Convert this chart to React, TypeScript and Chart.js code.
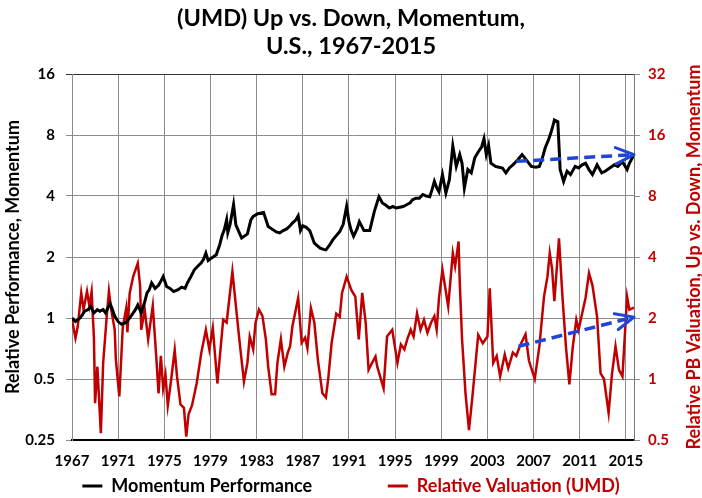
import React, { useEffect, useRef } from "react";
import { Chart, registerables } from "chart.js";

Chart.register(...registerables);

const FONT = "Lato, 'Open Sans', sans-serif";
const RED = "#c00000";
const BLUE = "#1f45d6";
const GRID = "#8c8c8c";

const titleLines = ["(UMD) Up vs. Down, Momentum,", "U.S., 1967-2015"];
const leftAxisTitle = "Relative Performance, Momentum";
const rightAxisTitle = "Relative PB Valuation, Up vs. Down, Momentum";
const momentumLabel = "Momentum Performance";
const valuationLabel = "Relative Valuation (UMD)";

const xTickYears = [1967, 1971, 1975, 1979, 1983, 1987, 1991, 1995, 1999, 2003, 2007, 2011, 2015];
const leftTicks = [0.25, 0.5, 1, 2, 4, 8, 16];
const rightTicks = [0.5, 1, 2, 4, 8, 16, 32];

const momentumYears = [
  1967.0, 1967.3, 1967.7, 1968.1, 1968.4, 1968.6, 1968.9, 1969.2, 1969.4, 1969.7, 1969.9, 1970.1, 1970.3, 1970.5, 1970.7,
  1971.0, 1971.3, 1971.7, 1972.0, 1972.2, 1972.5, 1972.7, 1973.0, 1973.3, 1973.5, 1973.7, 1973.9, 1974.2, 1974.5, 1974.7,
  1974.9, 1975.2, 1975.5, 1975.8, 1976.2, 1976.5, 1976.8, 1977.0, 1977.3, 1977.6, 1977.9, 1978.2, 1978.4, 1978.6, 1978.8,
  1979.1, 1979.5, 1979.8, 1980.0, 1980.2, 1980.4, 1980.5, 1980.7, 1981.0, 1981.2, 1981.5, 1981.7, 1982.0, 1982.2, 1982.5,
  1982.7, 1983.1, 1983.6, 1984.0, 1984.4, 1984.7, 1985.0, 1985.3, 1985.6, 1985.9, 1986.1, 1986.4, 1986.6, 1986.8, 1987.0,
  1987.3, 1987.6, 1988.0, 1988.5, 1988.8, 1989.0, 1989.3, 1989.6, 1989.9, 1990.2, 1990.5, 1990.8, 1991.0, 1991.2, 1991.4,
  1991.7, 1991.9, 1992.3, 1992.8, 1993.2, 1993.6, 1993.9, 1994.2, 1994.5, 1994.8, 1995.1, 1995.4, 1995.7, 1996.0, 1996.3,
  1996.5, 1996.8, 1997.1, 1997.4, 1997.7, 1998.0, 1998.2, 1998.4, 1998.6, 1998.8, 1999.1, 1999.4, 1999.7, 2000.0, 2000.3,
  2000.6, 2000.8, 2001.0, 2001.3, 2001.6, 2001.9, 2002.2, 2002.5, 2002.7, 2002.9, 2003.1, 2003.3, 2003.7, 2004.0, 2004.3,
  2004.6, 2004.9, 2005.2, 2005.6, 2006.0, 2006.3, 2006.6, 2006.8, 2007.2, 2007.5, 2007.7, 2008.0, 2008.3, 2008.5, 2008.7,
  2008.8, 2009.1, 2009.3, 2009.6, 2009.9, 2010.2, 2010.6, 2010.9, 2011.2, 2011.5, 2011.8, 2012.1, 2012.5, 2012.9, 2013.2,
  2013.6, 2014.0, 2014.3, 2014.7, 2015.1, 2015.3, 2015.7,
];
const momentumValues = [
  1.0, 0.96, 1.0, 1.08, 1.1, 1.14, 1.06, 1.1, 1.08, 1.1, 1.06, 1.12, 1.18, 1.1, 1.02,
  0.96, 0.93, 0.95, 1.0, 1.04, 1.1, 1.16, 1.06, 1.2, 1.33, 1.38, 1.49, 1.4, 1.45, 1.52,
  1.6, 1.43, 1.4, 1.35, 1.38, 1.42, 1.4, 1.49, 1.6, 1.73, 1.8, 1.87, 1.95, 2.09, 1.92,
  1.98, 2.05, 2.3, 2.55, 2.73, 3.05, 2.64, 2.9, 3.63, 2.88, 2.63, 2.48, 2.55, 2.6, 3.05,
  3.17, 3.27, 3.32, 2.83, 2.73, 2.66, 2.63, 2.7, 2.75, 2.85, 2.94, 3.05, 3.19, 2.7, 2.85,
  2.8, 2.7, 2.34, 2.21, 2.18, 2.17, 2.28, 2.43, 2.55, 2.67, 2.9, 3.56, 2.98, 2.7, 2.53,
  2.75, 2.99, 2.7, 2.7, 3.36, 3.97, 3.7, 3.6, 3.49, 3.55, 3.49, 3.52, 3.55, 3.62, 3.7,
  3.83, 3.9, 3.9, 4.07, 4.0, 3.97, 4.3, 4.72, 4.4, 4.2, 5.1, 4.14, 4.8, 7.07, 5.6,
  6.4, 5.8, 4.38, 5.4, 5.2, 6.17, 6.6, 7.0, 7.67, 6.4, 7.1, 5.81, 5.6, 5.55, 5.5,
  5.2, 5.5, 5.7, 6.0, 6.4, 6.1, 5.8, 5.6, 5.55, 5.6, 6.0, 6.9, 7.6, 8.2, 9.0,
  9.5, 9.3, 5.4, 4.72, 5.3, 5.1, 5.6, 5.5, 5.7, 5.8, 5.4, 5.1, 5.7, 5.2, 5.3,
  5.5, 5.7, 5.6, 5.9, 5.4, 5.8, 6.4,
];

const valuationYears = [
  1967.0, 1967.3, 1967.5, 1967.8, 1968.0, 1968.3, 1968.5, 1968.7, 1968.9, 1969.0, 1969.2, 1969.5, 1969.7, 1970.0, 1970.2,
  1970.4, 1970.7, 1970.8, 1971.1, 1971.4, 1971.7, 1971.8, 1972.0, 1972.3, 1972.7, 1972.9, 1973.0, 1973.3, 1973.6, 1974.0,
  1974.3, 1974.5, 1974.7, 1974.9, 1975.1, 1975.3, 1975.6, 1975.9, 1976.1, 1976.4, 1976.7, 1976.9, 1977.1, 1977.4, 1977.8,
  1978.2, 1978.6, 1978.9, 1979.2, 1979.6, 1980.1, 1980.4, 1980.9, 1981.2, 1981.5, 1981.9, 1982.2, 1982.4, 1982.7, 1982.9,
  1983.2, 1983.5, 1983.8, 1984.0, 1984.3, 1984.6, 1984.8, 1985.1, 1985.4, 1985.7, 1985.9, 1986.1, 1986.6, 1986.9, 1987.2,
  1987.4, 1987.7, 1988.0, 1988.3, 1988.7, 1989.0, 1989.2, 1989.5, 1989.9, 1990.2, 1990.4, 1990.8, 1991.2, 1991.55, 1991.85,
  1992.15, 1992.45, 1992.7, 1993.0, 1993.3, 1993.45, 1993.7, 1994.0, 1994.3, 1994.75, 1995.2, 1995.5, 1995.8, 1996.05, 1996.35,
  1996.6, 1996.9, 1997.2, 1997.5, 1997.8, 1998.1, 1998.4, 1998.6, 1998.8, 1999.1, 1999.6, 2000.0, 2000.2, 2000.5, 2000.6,
  2000.8, 2001.1, 2001.4, 2001.7, 2002.0, 2002.2, 2002.6, 2003.0, 2003.2, 2003.5, 2003.8, 2004.1, 2004.5, 2004.8, 2005.2,
  2005.5, 2005.8, 2006.3, 2006.6, 2007.1, 2007.5, 2007.9, 2008.2, 2008.4, 2008.6, 2008.8, 2009.2, 2009.5, 2009.8, 2010.1,
  2010.4, 2010.7, 2010.9, 2011.2, 2011.5, 2011.8, 2012.1, 2012.5, 2012.8, 2013.1, 2013.5, 2013.8, 2014.1, 2014.4, 2014.7,
  2014.9, 2015.1, 2015.3, 2015.7,
];
const valuationValues = [
  1.96, 1.59, 1.82, 2.66, 2.2, 2.71, 2.3, 2.7, 1.6, 0.76, 1.15, 0.54, 1.2, 2.0, 2.71,
  2.2, 1.75, 1.25, 0.82, 1.8, 2.24, 1.7, 2.66, 3.2, 3.73, 2.9, 1.75, 2.2, 1.57, 2.3,
  1.29, 0.85, 1.3, 0.9, 1.05, 0.74, 1.0, 1.39, 1.03, 0.75, 0.72, 0.52, 0.67, 0.74, 0.95,
  1.34, 1.75, 1.4, 1.79, 0.95, 1.96, 1.9, 3.39, 2.3, 1.57, 0.97, 1.2, 1.62, 1.4, 1.89,
  2.2, 2.05, 1.57, 1.15, 0.84, 0.84, 1.2, 1.57, 1.15, 1.35, 1.45, 1.82, 2.51, 1.51, 1.6,
  1.42, 2.24, 1.9, 1.25, 0.85, 0.81, 1.0, 1.51, 2.1, 2.03, 2.66, 3.2, 2.75, 2.55, 1.57,
  2.66, 1.89, 1.11, 1.2, 1.29, 1.15, 1.03, 0.9, 1.62, 1.75, 1.2, 1.48, 1.4, 1.57, 1.75,
  1.62, 2.11, 1.75, 1.96, 1.69, 1.89, 2.04, 1.75, 2.51, 3.46, 2.28, 4.18, 3.6, 4.77, 3.0,
  1.57, 0.85, 0.56, 0.82, 1.25, 1.65, 1.5, 1.62, 2.8, 1.2, 1.3, 1.03, 1.32, 1.13, 1.35,
  1.3, 1.45, 1.66, 1.23, 1.0, 1.45, 2.55, 3.2, 4.18, 3.5, 2.42, 4.95, 2.55, 1.45, 0.94,
  1.45, 1.96, 1.75, 2.1, 2.51, 3.33, 2.9, 2.03, 1.07, 1.0, 0.68, 1.07, 1.45, 1.11, 1.03,
  1.62, 2.55, 2.2, 2.25,
];

const upperArrowYears = [2005.5, 2015.7];
const upperArrowValues = [5.93, 6.4];
const lowerArrowYears = [2005.7, 2015.7];
const lowerArrowValues = [1.45, 2.02];

const toPoints = (xs: number[], ys: number[]) => xs.map((x, i) => ({ x, y: ys[i] }));

const arrowHeads = {
  id: "arrowHeads",
  afterDatasetsDraw(chart: any) {
    const ctx = chart.ctx;
    chart.data.datasets.forEach((ds: any, i: number) => {
      if (!ds.isArrow) return;
      const pts = chart.getDatasetMeta(i).data;
      const a = pts[pts.length - 2];
      const b = pts[pts.length - 1];
      const ang = Math.atan2(b.y - a.y, b.x - a.x);
      const len = 20;
      const spread = 0.42;
      ctx.save();
      ctx.strokeStyle = ds.borderColor;
      ctx.lineWidth = 3;
      ctx.setLineDash([]);
      ctx.lineCap = "round";
      ctx.lineJoin = "round";
      ctx.beginPath();
      ctx.moveTo(b.x - len * Math.cos(ang - spread), b.y - len * Math.sin(ang - spread));
      ctx.lineTo(b.x, b.y);
      ctx.lineTo(b.x - len * Math.cos(ang + spread), b.y - len * Math.sin(ang + spread));
      ctx.stroke();
      ctx.restore();
    });
  },
};

const rightTitlePlugin = {
  id: "rightTitle",
  afterDraw(chart: any) {
    const ctx = chart.ctx;
    const area = chart.chartArea;
    ctx.save();
    ctx.translate(694, (area.top + area.bottom) / 2);
    ctx.rotate(-Math.PI / 2);
    ctx.font = `bold 18px ${FONT}`;
    ctx.fillStyle = RED;
    ctx.textAlign = "center";
    ctx.textBaseline = "middle";
    ctx.fillText(rightAxisTitle, 0, 0);
    ctx.restore();
  },
};

export default function App() {
  const ref = useRef<HTMLCanvasElement>(null);

  useEffect(() => {
    document.body.style.margin = "0";
    const canvas = ref.current!;
    const chart = new Chart(canvas, {
      type: "line",
      data: {
        datasets: [
          {
            label: "upper-arrow",
            isArrow: true,
            data: toPoints(upperArrowYears, upperArrowValues),
            borderColor: BLUE,
            borderWidth: 3.5,
            borderDash: [11, 6],
            pointRadius: 0,
            yAxisID: "y",
            order: 0,
          } as any,
          {
            label: "lower-arrow",
            isArrow: true,
            data: toPoints(lowerArrowYears, lowerArrowValues),
            borderColor: BLUE,
            borderWidth: 3.5,
            borderDash: [11, 6],
            pointRadius: 0,
            yAxisID: "y1",
            order: 1,
          } as any,
          {
            label: momentumLabel,
            data: toPoints(momentumYears, momentumValues),
            borderColor: "#000000",
            borderWidth: 3,
            pointRadius: 0,
            tension: 0,
            yAxisID: "y",
            order: 2,
          },
          {
            label: valuationLabel,
            data: toPoints(valuationYears, valuationValues),
            borderColor: RED,
            borderWidth: 2.5,
            pointRadius: 0,
            tension: 0,
            yAxisID: "y1",
            order: 3,
          },
        ],
      },
      options: {
        responsive: false,
        animation: false,
        devicePixelRatio: 1,
        events: [],
        layout: { padding: { left: 0, right: 0, top: 0, bottom: -7 } },
        plugins: {
          tooltip: { enabled: false },
          title: {
            display: true,
            text: titleLines,
            color: "#000",
            font: { family: FONT, size: 23.5, weight: "bold", lineHeight: 28 / 23.5 },
            padding: { top: 4, bottom: 14 },
          },
          legend: {
            display: true,
            position: "bottom",
            labels: {
              boxWidth: 20,
              boxHeight: 3,
              padding: 10,
              font: { family: FONT, size: 18, weight: "bold" },
              generateLabels: () => [
                {
                  text: momentumLabel + "               ",
                  fillStyle: "#000",
                  strokeStyle: "#000",
                  lineWidth: 0,
                  fontColor: "#000",
                  datasetIndex: 2,
                  hidden: false,
                },
                {
                  text: valuationLabel,
                  fillStyle: RED,
                  strokeStyle: RED,
                  lineWidth: 0,
                  fontColor: RED,
                  datasetIndex: 3,
                  hidden: false,
                },
              ],
            },
          },
        },
        scales: {
          x: {
            type: "linear",
            min: 1967,
            max: 2015.7,
            afterBuildTicks: (s: any) => {
              s.ticks = xTickYears.map((v) => ({ value: v }));
            },
            afterFit: (s: any) => {
              s.height = 27;
            },
            grid: { color: GRID, lineWidth: 1, drawTicks: false },
            border: { display: true, color: "#000", width: 2 },
            ticks: {
              padding: 12,
              color: "#000",
              font: { family: FONT, size: 15, weight: "bold" },
              callback: (v: any) => String(v),
              maxRotation: 0,
              autoSkip: false,
            },
          },
          y: {
            type: "logarithmic",
            position: "left",
            min: 0.25,
            max: 16,
            afterBuildTicks: (s: any) => {
              s.ticks = leftTicks.map((v) => ({ value: v }));
            },
            afterFit: (s: any) => {
              s.width = 72;
            },
            grid: {
              color: (c: any) => (c.tick && c.tick.value === 16 ? "#333" : GRID),
              lineWidth: 1,
              tickLength: 6,
            },
            border: { display: true, color: GRID, width: 1 },
            ticks: {
              padding: 11,
              color: "#000",
              font: { family: FONT, size: 15, weight: "bold" },
              callback: (v: any) => String(v),
              autoSkip: false,
            },
            title: {
              display: true,
              text: leftAxisTitle,
              color: "#000",
              font: { family: FONT, size: 18, weight: "bold" },
              padding: { top: 2, bottom: 0 },
            },
          },
          y1: {
            type: "logarithmic",
            position: "right",
            min: 0.5,
            max: 32,
            afterBuildTicks: (s: any) => {
              s.ticks = rightTicks.map((v) => ({ value: v }));
            },
            afterFit: (s: any) => {
              s.width = 68;
            },
            grid: { drawOnChartArea: false, color: GRID, tickLength: 6 },
            border: { display: true, color: "#777", width: 1 },
            ticks: {
              padding: 8,
              color: RED,
              font: { family: FONT, size: 15, weight: "bold" },
              callback: (v: any) => String(v),
              autoSkip: false,
            },
          },
        },
      } as any,
      plugins: [arrowHeads, rightTitlePlugin],
    });
    return () => chart.destroy();
  }, []);

  return (
    <div style={{ width: 702, height: 498, background: "#fff" }}>
      <canvas ref={ref} width={702} height={498} style={{ display: "block" }} />
    </div>
  );
}
